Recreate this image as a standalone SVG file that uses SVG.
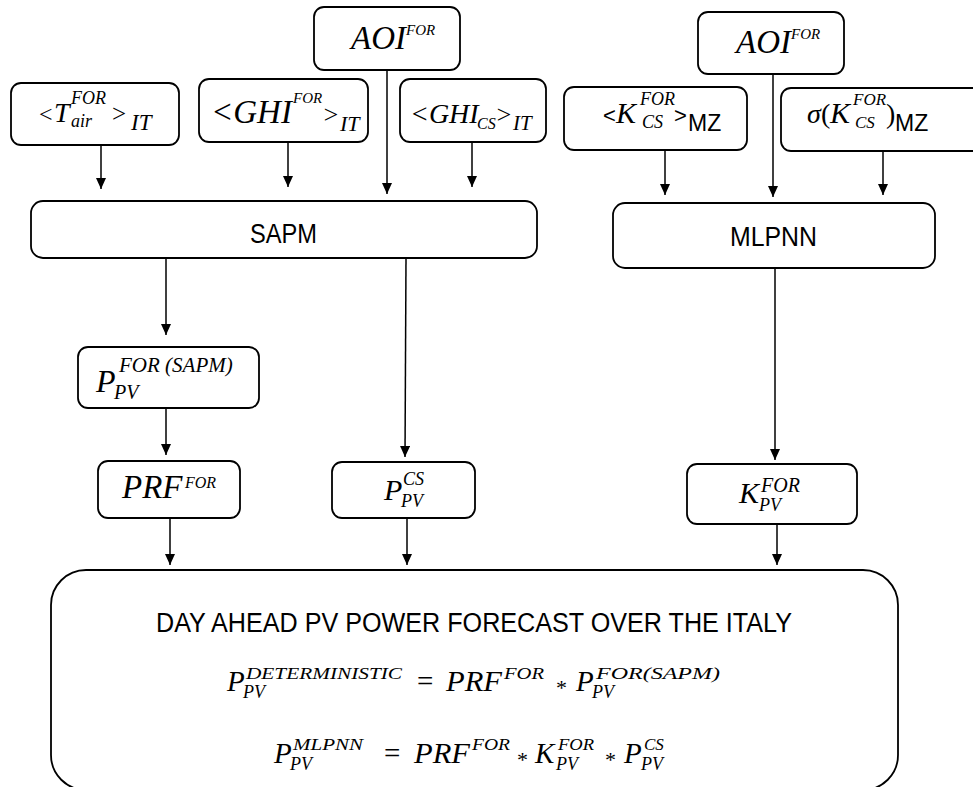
<svg xmlns="http://www.w3.org/2000/svg" width="973" height="787" viewBox="0 0 973 787">
<defs>
<marker id="ah" markerUnits="userSpaceOnUse" markerWidth="12" markerHeight="10" refX="11" refY="5" orient="auto" viewBox="0 0 12 10">
<path d="M0,0 L11,5 L0,10 z" fill="#000"/>
</marker>
<style>
.box{fill:#fff;stroke:#000;stroke-width:1.8}
.m{font-family:"Liberation Serif",serif;font-style:italic;fill:#000}
.n{font-style:normal}
.s{font-family:"Liberation Sans",Arial,sans-serif;font-style:normal;fill:#000}
.c line{stroke:#000;stroke-width:1.5}
</style>
</defs>
<rect width="973" height="787" fill="#fff"/>

<g id="final">
<rect class="box" x="51" y="570" width="847" height="220" rx="35"/>
<text class="s" x="156" y="632" font-size="27" textLength="636" lengthAdjust="spacingAndGlyphs">DAY AHEAD PV POWER FORECAST OVER THE ITALY</text>
<text class="m" font-size="29"><tspan x="227" y="691">P</tspan><tspan x="246" y="679" font-size="17" textLength="156" lengthAdjust="spacingAndGlyphs">DETERMINISTIC</tspan><tspan x="243" y="698" font-size="18">PV</tspan><tspan class="n" x="417" y="691">=</tspan><tspan x="446" y="691" textLength="56" lengthAdjust="spacingAndGlyphs">PRF</tspan><tspan x="504" y="679" font-size="17" textLength="40" lengthAdjust="spacingAndGlyphs">FOR</tspan><tspan class="n" x="556" y="695" font-size="22">*</tspan><tspan x="576" y="691">P</tspan><tspan x="592" y="698" font-size="18">PV</tspan><tspan x="596" y="679" font-size="17" textLength="124" lengthAdjust="spacingAndGlyphs">FOR(SAPM)</tspan></text>
<text class="m" font-size="29"><tspan x="274" y="763">P</tspan><tspan x="293" y="750" font-size="17" textLength="70" lengthAdjust="spacingAndGlyphs">MLPNN</tspan><tspan x="290" y="770" font-size="18">PV</tspan><tspan class="n" x="384" y="763">=</tspan><tspan x="414" y="763" textLength="56" lengthAdjust="spacingAndGlyphs">PRF</tspan><tspan x="472" y="750" font-size="17" textLength="38" lengthAdjust="spacingAndGlyphs">FOR</tspan><tspan class="n" x="517" y="767" font-size="22">*</tspan><tspan x="535" y="763">K</tspan><tspan x="558" y="750" font-size="17" textLength="36" lengthAdjust="spacingAndGlyphs">FOR</tspan><tspan x="556" y="770" font-size="18">PV</tspan><tspan class="n" x="605" y="767" font-size="22">*</tspan><tspan x="624" y="763">P</tspan><tspan x="644" y="750" font-size="17">CS</tspan><tspan x="641" y="770" font-size="18">PV</tspan></text>
</g>

<g id="tair">
<rect class="box" x="11" y="83" width="168" height="62" rx="10"/>
<text class="m" font-size="28"><tspan class="n" x="39" y="122" font-size="24">&lt;</tspan><tspan x="54" y="122">T</tspan><tspan x="71" y="104" font-size="18">FOR</tspan><tspan x="71" y="127" font-size="18">air</tspan><tspan class="n" x="112" y="122" font-size="25">&gt;</tspan><tspan x="131" y="130" font-size="23">IT</tspan></text>
</g>

<g id="ghifor">
<rect class="box" x="199" y="79" width="169" height="63" rx="10"/>
<text class="m" font-size="33"><tspan x="211" y="123">&lt;GHI</tspan><tspan x="293" y="103" font-size="15">FOR</tspan><tspan x="322" y="123" font-size="26">&gt;</tspan><tspan x="340" y="131" font-size="22">IT</tspan></text>
</g>

<g id="aoi1">
<rect class="box" x="314" y="7" width="146" height="63" rx="10"/>
<text class="m" font-size="33"><tspan x="351" y="49">AOI</tspan><tspan x="406" y="35" font-size="15">FOR</tspan></text>
</g>

<g id="ghics">
<rect class="box" x="400" y="79" width="146" height="63" rx="10"/>
<text class="m" font-size="28"><tspan x="410" y="123">&lt;GHI</tspan><tspan x="477" y="129" font-size="16">CS</tspan><tspan x="495" y="123" font-size="26">&gt;</tspan><tspan x="513" y="130" font-size="21">IT</tspan></text>
</g>

<g id="kcs">
<rect class="box" x="564" y="87" width="183" height="63" rx="10"/>
<text class="m" font-size="30"><tspan class="s" x="603" y="123" font-size="22">&lt;</tspan><tspan x="616" y="123">K</tspan><tspan x="640" y="105" font-size="18">FOR</tspan><tspan x="642" y="128" font-size="18">CS</tspan><tspan class="s" x="674" y="123" font-size="22">&gt;</tspan><tspan class="s" x="688" y="131" font-size="23">MZ</tspan></text>
</g>

<g id="aoi2">
<rect class="box" x="698" y="12" width="146" height="62" rx="10"/>
<text class="m" font-size="33"><tspan x="736" y="53">AOI</tspan><tspan x="791" y="39" font-size="15">FOR</tspan></text>
</g>

<g id="sigma">
<rect class="box" x="781" y="88" width="215" height="63" rx="10"/>
<text class="m" font-size="30"><tspan x="807" y="123" font-size="28">σ</tspan><tspan class="n" x="821" y="123" font-size="28">(</tspan><tspan x="830" y="123">K</tspan><tspan x="853" y="105" font-size="17">FOR</tspan><tspan x="855" y="128" font-size="17">CS</tspan><tspan class="n" x="886" y="123" font-size="28">)</tspan><tspan class="s" x="895" y="131" font-size="23">MZ</tspan></text>
</g>

<g id="sapm">
<rect class="box" x="31" y="201" width="506" height="57" rx="12"/>
<text class="s" x="250" y="243" font-size="27" textLength="67" lengthAdjust="spacingAndGlyphs">SAPM</text>
</g>

<g id="mlpnn">
<rect class="box" x="613" y="203" width="322" height="65" rx="12"/>
<text class="s" x="730" y="246" font-size="27" textLength="87" lengthAdjust="spacingAndGlyphs">MLPNN</text>
</g>

<g id="psapm">
<rect class="box" x="78" y="347" width="181" height="61" rx="10"/>
<text class="m" font-size="32"><tspan x="96" y="392">P</tspan><tspan x="119" y="372" font-size="21">FOR (SAPM)</tspan><tspan x="114" y="399" font-size="20">PV</tspan></text>
</g>

<g id="prf">
<rect class="box" x="98" y="461" width="142" height="57" rx="10"/>
<text class="m" font-size="33"><tspan x="122" y="498">PRF</tspan><tspan x="185" y="488" font-size="16">FOR</tspan></text>
</g>

<g id="pcs">
<rect class="box" x="332" y="462" width="143" height="56" rx="10"/>
<text class="m" font-size="30"><tspan x="384" y="500">P</tspan><tspan x="403" y="485" font-size="18">CS</tspan><tspan x="401" y="507" font-size="18">PV</tspan></text>
</g>

<g id="kpv">
<rect class="box" x="687" y="464" width="170" height="60" rx="10"/>
<text class="m" font-size="30"><tspan x="739" y="503">K</tspan><tspan x="761" y="492" font-size="20">FOR</tspan><tspan x="759" y="511" font-size="18">PV</tspan></text>
</g>

<g id="connectors" class="c">
<line x1="101" y1="145" x2="101" y2="189" marker-end="url(#ah)"/>
<line x1="288" y1="142" x2="288" y2="187" marker-end="url(#ah)"/>
<line x1="387" y1="70" x2="387" y2="194" marker-end="url(#ah)"/>
<line x1="472" y1="142" x2="472" y2="187" marker-end="url(#ah)"/>
<line x1="665" y1="150" x2="665" y2="195" marker-end="url(#ah)"/>
<line x1="773" y1="74" x2="773" y2="197" marker-end="url(#ah)"/>
<line x1="883" y1="151" x2="883" y2="195" marker-end="url(#ah)"/>
<line x1="166" y1="258" x2="166" y2="335" marker-end="url(#ah)"/>
<line x1="406" y1="258" x2="405" y2="457" marker-end="url(#ah)"/>
<line x1="166" y1="408" x2="166" y2="455" marker-end="url(#ah)"/>
<line x1="170" y1="518" x2="170" y2="565" marker-end="url(#ah)"/>
<line x1="407" y1="518" x2="407" y2="565" marker-end="url(#ah)"/>
<line x1="775" y1="268" x2="775" y2="460" marker-end="url(#ah)"/>
<line x1="777" y1="524" x2="777" y2="565" marker-end="url(#ah)"/>
</g>
</svg>
